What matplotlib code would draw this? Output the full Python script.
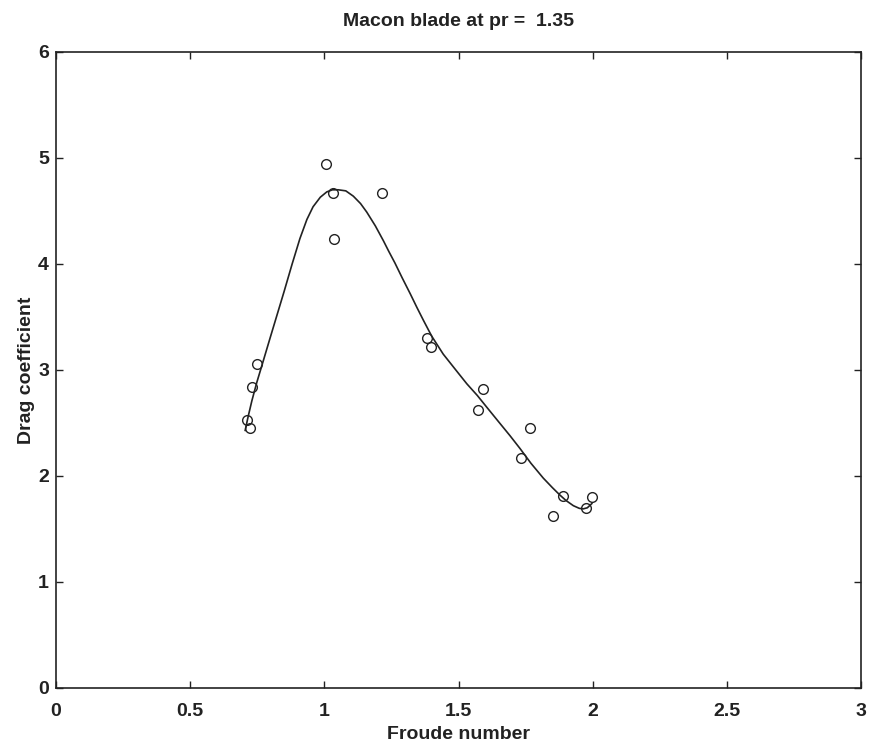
import matplotlib
matplotlib.use("Agg")
import matplotlib.pyplot as plt

plt.rcParams['font.family'] = ['Liberation Sans', 'DejaVu Sans']

# measured data points
froude_pts = [0.712, 0.722, 0.730, 0.748, 1.005, 1.034, 1.037, 1.214,
              1.381, 1.396, 1.574, 1.593, 1.732, 1.767, 1.851, 1.891, 1.975, 1.997]
drag_pts = [2.53, 2.45, 2.84, 3.06, 4.94, 4.67, 4.24, 4.67,
            3.30, 3.22, 2.62, 2.82, 2.17, 2.45, 1.62, 1.81, 1.70, 1.80]

# fitted curve
froude_fit = [0.705, 0.716, 0.730, 0.748, 0.767, 0.800, 0.850, 0.880, 0.909, 0.935,
              0.958, 0.985, 1.009, 1.030, 1.052, 1.080, 1.108, 1.135, 1.158, 1.190,
              1.220, 1.240, 1.263, 1.290, 1.320, 1.345, 1.369, 1.400, 1.443, 1.490,
              1.531, 1.570, 1.605, 1.650, 1.692, 1.729, 1.770, 1.816, 1.850, 1.878,
              1.900, 1.928, 1.950, 1.965, 1.980, 1.997]
drag_fit = [2.43, 2.56, 2.71, 2.88, 3.04, 3.32, 3.74, 4.00, 4.24, 4.42,
            4.54, 4.63, 4.68, 4.70, 4.70, 4.69, 4.64, 4.57, 4.49, 4.36,
            4.22, 4.12, 4.01, 3.87, 3.72, 3.59, 3.47, 3.32, 3.15, 3.00,
            2.87, 2.76, 2.65, 2.51, 2.38, 2.26, 2.12, 1.98, 1.89, 1.82,
            1.77, 1.72, 1.695, 1.69, 1.70, 1.74]

xticks = [0, 0.5, 1, 1.5, 2, 2.5, 3]
xticklabels = ['0', '0.5', '1', '1.5', '2', '2.5', '3']
yticks = [0, 1, 2, 3, 4, 5, 6]

fig = plt.figure(figsize=(8.74, 7.44), dpi=100)
ax = fig.add_axes([56/874, 56/744, 805/874, 636/744])

ax.plot(froude_pts, drag_pts, linestyle='none', marker='o', markersize=7,
        markerfacecolor='none', markeredgecolor='#222222', markeredgewidth=1.0)
ax.plot(froude_fit, drag_fit, color='#222222', linewidth=1.2)

ax.set_xlim(0, 3)
ax.set_ylim(0, 6)
ax.set_xticks(xticks)
ax.set_xticklabels(xticklabels)
ax.set_yticks(yticks)
ax.tick_params(direction='in', length=5, width=1, top=True, right=True,
               labelsize=14, colors='#222222')
ax.tick_params(axis='x', pad=11)
ax.tick_params(axis='y', pad=5)
for lab in ax.get_xticklabels() + ax.get_yticklabels():
    lab.set_fontweight('bold')
for sp in ax.spines.values():
    sp.set_linewidth(1.2)
    sp.set_color('#222222')

ax.set_xlabel('Froude number', fontsize=14, fontweight='bold', color='#222222', va='center')
ax.xaxis.set_label_coords(0.5, -0.073)
ax.set_ylabel('Drag coefficient', fontsize=14, fontweight='bold', labelpad=2, color='#222222')
ax.set_title('Macon blade at pr =  1.35', fontsize=14, fontweight='bold', pad=19, color='#222222')

fig.savefig('out.png', dpi=100)
